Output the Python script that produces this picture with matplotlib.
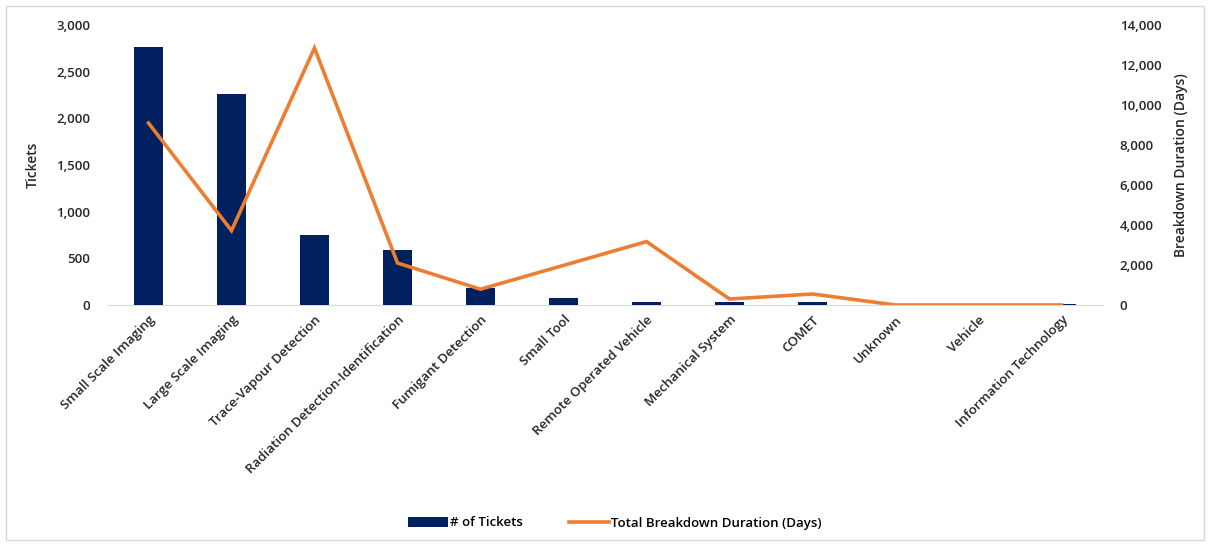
import matplotlib.pyplot as plt
from matplotlib.ticker import FuncFormatter
from matplotlib.patches import Rectangle

# categories and values
categories = ['Small Scale Imaging', 'Large Scale Imaging', 'Trace-Vapour Detection',
              'Radiation Detection-Identification', 'Fumigant Detection', 'Small Tool',
              'Remote Operated Vehicle', 'Mechanical System', 'COMET', 'Unknown',
              'Vehicle', 'Information Technology']
tickets = [2760, 2260, 750, 590, 180, 70, 30, 30, 30, 0, 0, 10]
duration_days = [9100, 3720, 12850, 2100, 790, 1980, 3170, 300, 550, 0, 0, 0]

plt.rcParams['font.family'] = ['Open Sans', 'DejaVu Sans']

fig = plt.figure(figsize=(12.1, 5.46), dpi=100)
ax = fig.add_axes([107/1210, 241/546, 996/1210, 280/546])
ax2 = ax.twinx()

x = range(len(categories))
bars = ax.bar(x, tickets, width=0.34, color='#002060', label='# of Tickets', zorder=2)
line, = ax2.plot(x, duration_days, color='#ED7D31', linewidth=2.6, label='Total Breakdown Duration (Days)',
                 solid_joinstyle='miter', zorder=3)

ax.set_xlim(-0.5, len(categories) - 0.5)
ax.set_ylim(0, 3000)
ax2.set_ylim(0, 14000)
ax.set_yticks(range(0, 3001, 500))
ax2.set_yticks(range(0, 14001, 2000))
fmt = FuncFormatter(lambda v, p: f'{int(v):,}')
ax.yaxis.set_major_formatter(fmt)
ax2.yaxis.set_major_formatter(fmt)

for a in (ax, ax2):
    for s in a.spines.values():
        s.set_visible(False)
    a.tick_params(length=0, labelsize=9.5, colors='#262626')
    for lbl in a.get_yticklabels():
        lbl.set_fontweight('semibold')
ax.spines['bottom'].set_visible(True)
ax.spines['bottom'].set_color('#d9d9d9')
ax.spines['bottom'].set_zorder(1)

ax.set_xticks(list(x))
ax.set_xticklabels(categories, rotation=45, ha='right', rotation_mode='anchor',
                   fontsize=9.5, fontweight='semibold', color='#262626')
ax.tick_params(axis='y', pad=12)
ax2.tick_params(axis='y', pad=12)
ax.tick_params(axis='x', pad=6)

ax.set_ylabel('Tickets', fontsize=10, fontweight='semibold', color='#262626', labelpad=12)
ax2.set_ylabel('Breakdown Duration (Days)', fontsize=10, fontweight='semibold', color='#262626', labelpad=9)

fig.legend([bars, line], ['# of Tickets', 'Total Breakdown Duration (Days)'],
           loc='center', bbox_to_anchor=(0.508, 1 - 523/546), ncol=2, frameon=False,
           handlelength=3.0, handletextpad=0.15, columnspacing=3.5,
           prop={'weight': 'semibold', 'size': 9.5})

# light frame around the whole chart
fig.patches.append(Rectangle((6/1210, 6/546), 1198/1210, 534/546, transform=fig.transFigure,
                             fill=False, edgecolor='#d9d9d9', linewidth=1))

fig.savefig('out.png', dpi=100)
